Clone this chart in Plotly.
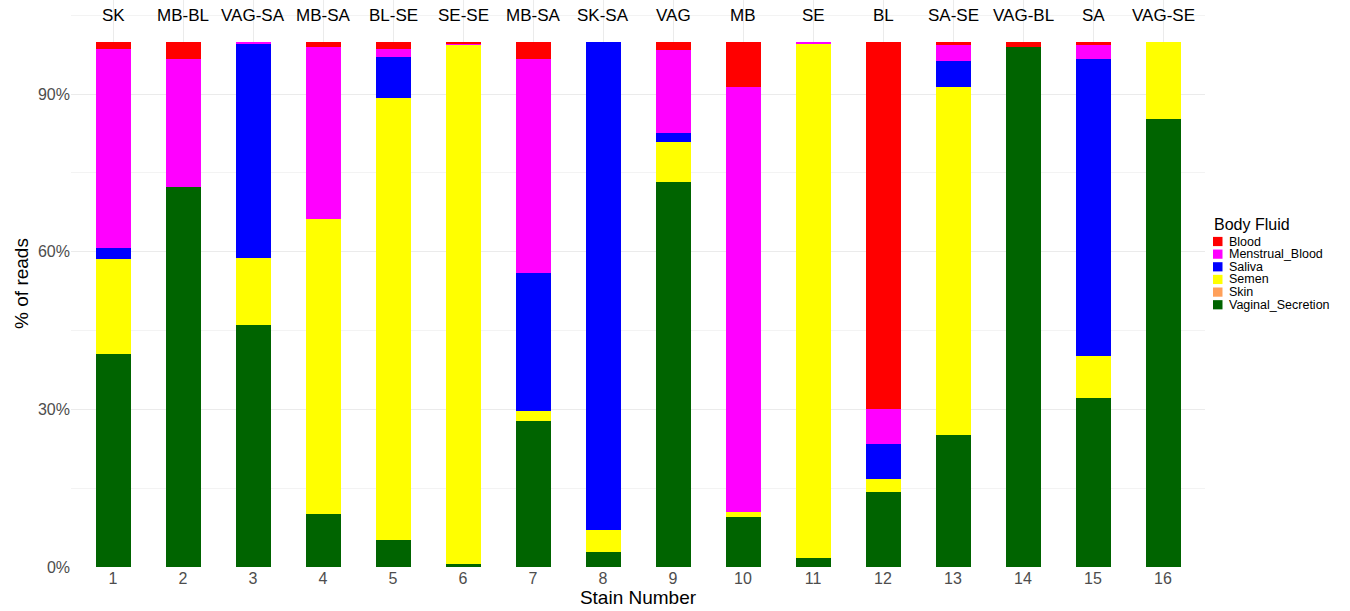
import plotly.graph_objects as go

stains = list(range(1, 17))
stain_labels = ["SK", "MB-BL", "VAG-SA", "MB-SA", "BL-SE", "SE-SE", "MB-SA", "SK-SA",
                "VAG", "MB", "SE", "BL", "SA-SE", "VAG-BL", "SA", "VAG-SE"]

# percentages of reads per body fluid (bottom-up stacking order)
vaginal_secretion = [40.5, 72.3, 46.0, 10.1, 5.1, 0.5, 27.8, 2.8, 73.3, 9.6, 1.7, 14.2, 25.2, 99.0, 32.2, 85.3]
skin =              [0.0, 0.0, 0.0, 0.0, 0.0, 0.0, 0.0, 0.0, 0.0, 0.0, 0.0, 0.0, 0.0, 0.0, 0.0, 0.0]
semen =             [18.1, 0.0, 12.8, 56.1, 84.1, 98.9, 1.8, 4.2, 7.6, 0.8, 98.0, 2.6, 66.1, 0.0, 7.9, 14.7]
saliva =            [2.2, 0.0, 40.9, 0.0, 7.9, 0.0, 26.3, 93.0, 1.7, 0.0, 0.0, 6.6, 5.0, 0.0, 56.5, 0.0]
menstrual_blood =   [37.7, 24.4, 0.3, 32.7, 1.5, 0.2, 40.8, 0.0, 15.8, 80.9, 0.3, 6.7, 3.1, 0.0, 2.8, 0.0]
blood =             [1.5, 3.3, 0.0, 1.1, 1.4, 0.4, 3.3, 0.0, 1.6, 8.7, 0.0, 69.9, 0.6, 1.0, 0.6, 0.0]

series = [
    ("Vaginal_Secretion", vaginal_secretion, "#006400"),
    ("Skin", skin, "#FFA05A"),
    ("Semen", semen, "#FFFF00"),
    ("Saliva", saliva, "#0000FF"),
    ("Menstrual_Blood", menstrual_blood, "#FF00FF"),
    ("Blood", blood, "#FF0000"),
]

W, H = 1350, 611
ML, MR, MT, MB = 71, 145, 0, 44
PW, PH = W - ML - MR, H - MT - MB

def px(xp):
    return (xp - ML) / PW

def py(yp):
    return (H - MB - yp) / PH

fig = go.Figure()
for name, vals, col in series:
    fig.add_trace(go.Bar(
        x=stains, y=vals, name=name, width=0.5, showlegend=False,
        marker=dict(color=col, line=dict(width=0)),
    ))

for s, lab in zip(stains, stain_labels):
    fig.add_annotation(x=s, y=105, text=lab, showarrow=False,
                       font=dict(size=17, color="black", family="Liberation Sans, Arial"),
                       xanchor="center", yanchor="middle")

# manual legend (ggplot-style compact)
fig.add_annotation(xref="paper", yref="paper", x=px(1212), y=py(224), text="Body Fluid",
                   showarrow=False, xanchor="left", yanchor="middle",
                   font=dict(size=16, color="black", family="Liberation Sans, Arial"))
legend_items = list(reversed(series))
for i, (name, vals, col) in enumerate(legend_items):
    cy = 241.5 + i * 12.65
    fig.add_shape(type="rect", xref="paper", yref="paper",
                  x0=px(1213), x1=px(1222.5), y0=py(cy + 4.6), y1=py(cy - 4.6),
                  fillcolor=col, line=dict(width=0))
    fig.add_annotation(xref="paper", yref="paper", x=px(1227), y=py(cy), text=name,
                       showarrow=False, xanchor="left", yanchor="middle",
                       font=dict(size=12.5, color="black", family="Liberation Sans, Arial"))

fig.update_layout(
    barmode="stack",
    width=W, height=H,
    margin=dict(l=ML, r=MR, t=MT, b=MB),
    plot_bgcolor="white", paper_bgcolor="white",
    font=dict(family="Liberation Sans, Arial", color="#4d4d4d"),
    bargap=0,
    showlegend=False,
    xaxis=dict(
        range=[0.4, 16.6],
        tickmode="array", tickvals=stains, ticktext=[str(s) for s in stains],
        tickfont=dict(size=16, color="#4d4d4d"),
        showgrid=True, gridcolor="#ebebeb", gridwidth=1,
        zeroline=False, ticks="", ticklen=0,
        title=dict(text="Stain Number", font=dict(size=19, color="black"), standoff=2),
    ),
    yaxis=dict(
        range=[0, 107.9],
        tickmode="array", tickvals=[0, 30, 60, 90], ticktext=["0%", "30%", "60%", "90%"],
        tickfont=dict(size=16, color="#4d4d4d"),
        showgrid=True, gridcolor="#ebebeb", gridwidth=1,
        minor=dict(tickmode="array", tickvals=[15, 45, 75, 105], showgrid=True, gridcolor="#f3f3f3", gridwidth=1),
        zeroline=False, ticks="",
        title=dict(text="% of reads", font=dict(size=19, color="black"), standoff=4),
    ),
)

fig.write_html("out.html")
